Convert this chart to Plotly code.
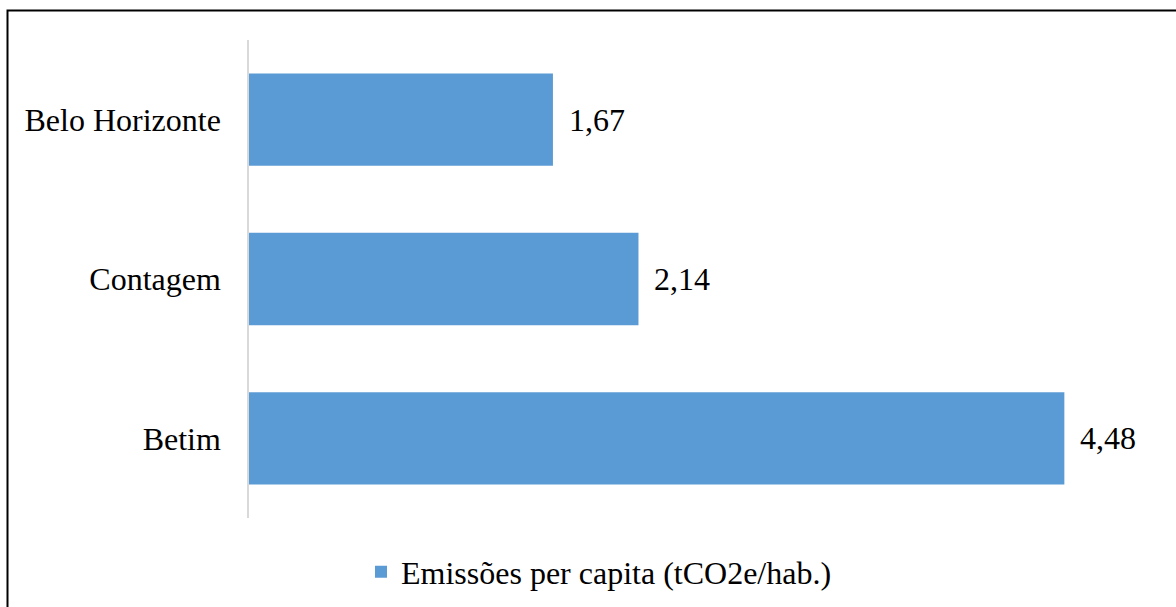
import plotly.graph_objects as go

categories = ["Belo Horizonte", "Contagem", "Betim"]
values = [1.67, 2.14, 4.48]
series_name = "Emissões per capita (tCO2e/hab.)"

W, H = 1176, 607
ML, MR, MT, MB = 249, 17, 40, 89
PW, PH = W - ML - MR, H - MT - MB

FONT = "Liberation Serif"

fig = go.Figure()
fig.add_trace(go.Bar(
    y=categories, x=values, orientation="h", name=series_name,
    marker=dict(color="#5B9BD5", line=dict(width=0)),
    hoverinfo="x+y",
))

for c, v in zip(categories, values):
    fig.add_annotation(
        x=v, y=c, xref="x", yref="y",
        text=f"{v:.2f}".replace(".", ","),
        showarrow=False, xanchor="left", yanchor="middle",
        xshift=14, font=dict(family=FONT, size=32, color="#000000"),
    )

# outer chart border
def px_to_paper_x(px):
    return (px - ML) / PW

def px_to_paper_y(py):
    return (H - MB - py) / PH

fig.add_shape(
    type="rect", xref="paper", yref="paper",
    x0=px_to_paper_x(7.5), x1=px_to_paper_x(W + 10),
    y0=px_to_paper_y(H + 10), y1=px_to_paper_y(10.5),
    line=dict(color="#000000", width=2), fillcolor="rgba(0,0,0,0)",
    layer="above",
)

fig.update_layout(
    width=W, height=H,
    margin=dict(l=ML, r=MR, t=MT, b=MB, pad=0),
    paper_bgcolor="#FFFFFF", plot_bgcolor="#FFFFFF",
    font=dict(family=FONT, size=32, color="#000000"),
    bargap=0.42,
    showlegend=True,
    legend=dict(
        orientation="h", xref="container", yref="container",
        x=361 / W, xanchor="left", y=1 - 572 / H, yanchor="middle",
        font=dict(family=FONT, size=32, color="#000000"),
        bgcolor="rgba(0,0,0,0)",
    ),
    xaxis=dict(range=[0, 5], visible=False, showgrid=False, zeroline=False, fixedrange=True),
    yaxis=dict(
        autorange="reversed", showline=True, linecolor="#D9D9D9", linewidth=1.5,
        showgrid=False, zeroline=False, ticks="", ticklabelstandoff=20,
        tickfont=dict(family=FONT, size=32, color="#000000"), fixedrange=True,
    ),
)

fig.write_html("out.html", config={"displayModeBar": False})
